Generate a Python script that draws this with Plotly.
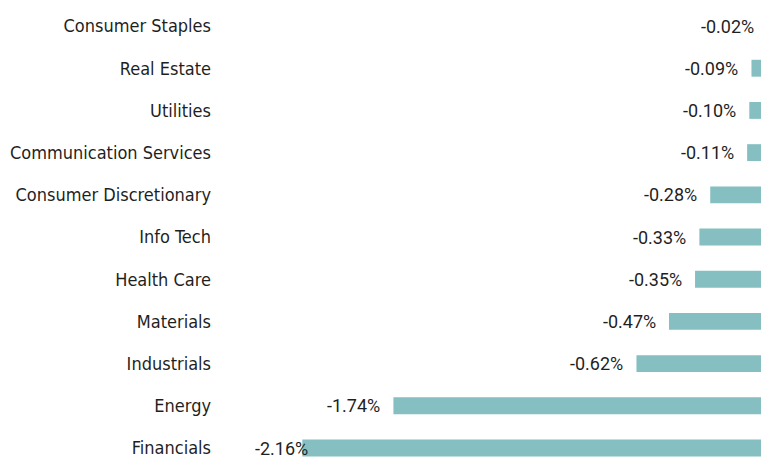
import plotly.graph_objects as go

# Data (bottom to top)
sectors = ["Financials", "Energy", "Industrials", "Materials", "Health Care",
           "Info Tech", "Consumer Discretionary", "Communication Services",
           "Utilities", "Real Estate", "Consumer Staples"]
values = [-2.16, -1.74, -0.62, -0.47, -0.35, -0.33, -0.28, -0.11, -0.10, -0.09, -0.02]
labels = [f"{v:.2f}%" for v in values]

BAR_COLOR = "#85BFC1"
TEXT_COLOR = "#1f1f1f"
CAT_FONT = "DejaVu Sans Condensed, Liberation Sans Narrow, Arial Narrow, sans-serif"
VAL_FONT = "Roboto, Open Sans, sans-serif"

X0, X1 = -2.5622, -0.0461   # visible x range (zero lies just past the right edge)

fig = go.Figure()
fig.add_trace(go.Bar(
    x=values, y=sectors, orientation="h",
    marker=dict(color=BAR_COLOR, line=dict(width=0)),
    width=0.4, hoverinfo="skip",
))

vmin = min(values)
for v, s, t in zip(values, sectors, labels):
    shift = 8 if v == vmin else -11
    fig.add_annotation(
        x=(v - X0) / (X1 - X0), y=s, xref="paper", yref="y", text=t,
        showarrow=False, xanchor="right", yanchor="middle", xshift=shift,
        font=dict(family=VAL_FONT, size=18, color=TEXT_COLOR),
    )

fig.update_layout(
    width=761, height=457,
    margin=dict(l=215, r=0, t=0, b=0),
    paper_bgcolor="white", plot_bgcolor="white",
    showlegend=False,
    xaxis=dict(visible=False, range=[X0, X1], fixedrange=True),
    yaxis=dict(
        type="category", categoryorder="array", categoryarray=sectors,
        range=[-0.213, 10.617], showgrid=False, zeroline=False, showline=False,
        ticks="", ticklabelstandoff=3, automargin=False,
        tickfont=dict(family=CAT_FONT, size=18, color=TEXT_COLOR),
    ),
)

fig.write_html("out.html")
